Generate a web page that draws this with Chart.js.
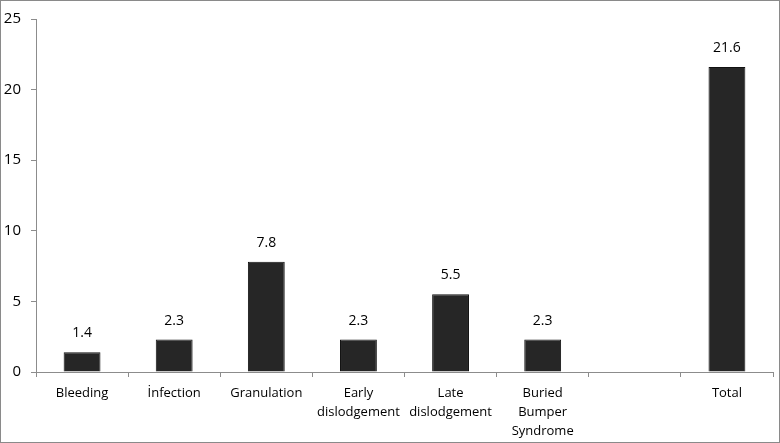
<!DOCTYPE html>
<html>
<head>
<meta charset="utf-8">
<style>
  html, body { margin: 0; padding: 0; background: #fff; }
  #wrap { width: 780px; height: 443px; }
</style>
<script src="https://cdn.jsdelivr.net/npm/chart.js@4/dist/chart.umd.min.js"></script>
</head>
<body>
<div id="wrap"><canvas id="chart" width="780" height="443"></canvas></div>
<script>
// categories and values
const categories = ['Bleeding', 'İnfection', 'Granulation', ['Early', 'dislodgement'], ['Late', 'dislodgement'], ['Buried', 'Bumper', 'Syndrome'], '', 'Total'];
const rates = [1.4, 2.3, 7.8, 2.3, 5.5, 2.3, null, 21.6];
const yTicks = [0, 5, 10, 15, 20, 25];

const axisGrey = '#8c8c8c';
const font = "'Open Sans', sans-serif";

// value above each bar
const valueLabels = {
    id: 'valueLabels',
    afterDatasetsDraw(chart) {
        const ctx = chart.ctx;
        const meta = chart.getDatasetMeta(0);
        ctx.save();
        ctx.font = '14px ' + font;
        ctx.fillStyle = '#000';
        ctx.textAlign = 'center';
        ctx.textBaseline = 'middle';
        meta.data.forEach((bar, i) => {
            if (rates[i] == null) return;
            ctx.fillText(rates[i].toFixed(1), bar.x, bar.y - 19);
        });
        ctx.restore();
    }
};

// grey frame round the whole picture
const frame = {
    id: 'frame',
    afterDraw(chart) {
        const ctx = chart.ctx;
        ctx.save();
        ctx.strokeStyle = '#8a8a8a';
        ctx.lineWidth = 1;
        ctx.strokeRect(0.5, 0.5, chart.width - 1, chart.height - 1);
        ctx.restore();
    }
};

new Chart(document.getElementById('chart').getContext('2d'), {
    type: 'bar',
    data: {
        labels: categories,
        datasets: [{
            data: rates,
            backgroundColor: '#262626',
            borderColor: '#111',
            borderWidth: 1,
            barPercentage: 0.4,
            categoryPercentage: 1
        }]
    },
    options: {
        responsive: false,
        animation: false,
        layout: { padding: { top: 19, right: 7, left: 0, bottom: 0 } },
        plugins: {
            legend: { display: false },
            tooltip: { enabled: false }
        },
        scales: {
            x: {
                offset: true,
                grid: {
                    offset: true,
                    drawOnChartArea: false,
                    drawTicks: true,
                    tickLength: 5,
                    color: axisGrey
                },
                border: { color: axisGrey, width: 1 },
                ticks: {
                    color: '#000',
                    font: { family: font, size: 13, lineHeight: 1.45 },
                    padding: 7,
                    maxRotation: 0,
                    autoSkip: false
                },
                afterFit(scale) { scale.height = 71; }
            },
            y: {
                min: 0,
                max: 25,
                afterBuildTicks(scale) { scale.ticks = yTicks.map(v => ({ value: v })); },
                grid: {
                    drawOnChartArea: false,
                    drawTicks: true,
                    tickLength: 5,
                    color: axisGrey
                },
                border: { color: axisGrey, width: 1 },
                ticks: {
                    color: '#000',
                    font: { family: font, size: 15 },
                    padding: 10
                },
                afterFit(scale) { scale.width = 36; }
            }
        }
    },
    plugins: [valueLabels, frame]
});
</script>
</body>
</html>
